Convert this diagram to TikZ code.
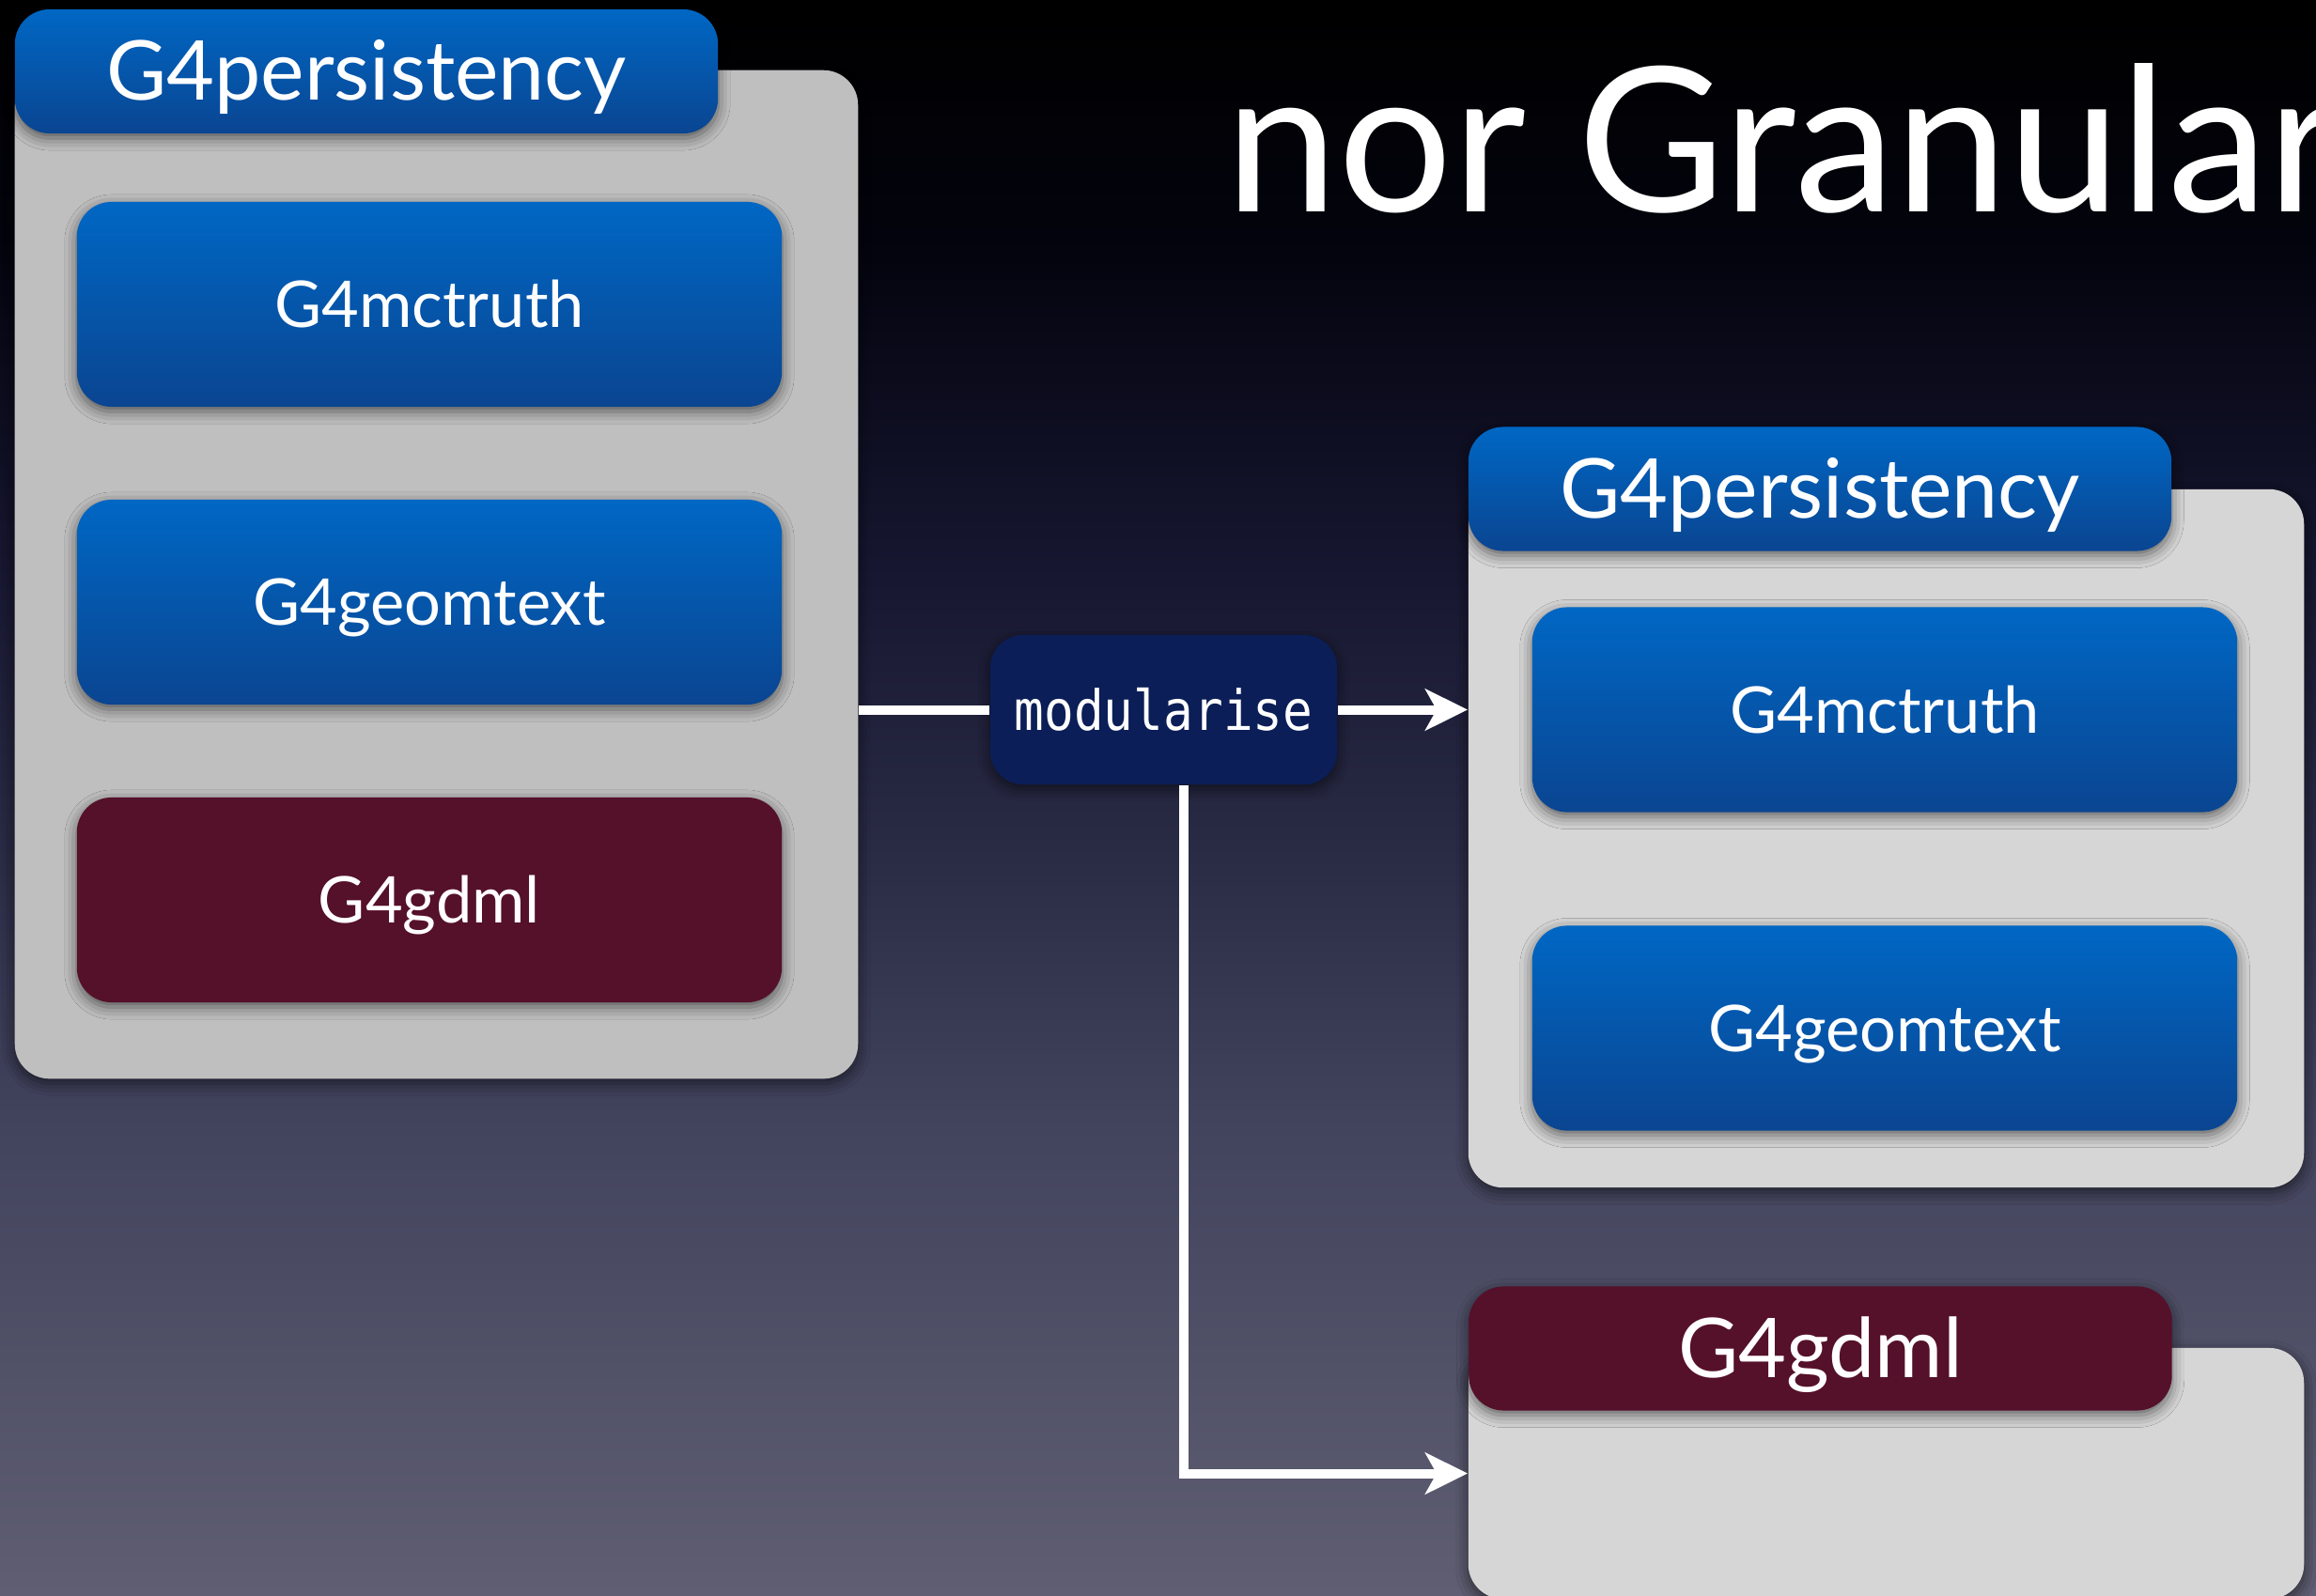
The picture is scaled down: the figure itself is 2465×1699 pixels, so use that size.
\documentclass[tikz,border=0pt]{standalone}
\usepackage{fontspec}
\setmainfont{Lato}
\newfontfamily\codefont{DejaVu Sans Mono}
\usetikzlibrary{arrows.meta,shadows.blur,calc}

\definecolor{bgA}{HTML}{000000}
\definecolor{bgB}{HTML}{03030D}
\definecolor{bgC}{HTML}{161630}
\definecolor{bgD}{HTML}{292A44}
\definecolor{bgE}{HTML}{42435D}
\definecolor{bgF}{HTML}{5F5E72}
\definecolor{grayL}{HTML}{BFBFBF}
\definecolor{grayR}{HTML}{D6D6D6}
\definecolor{boxtop}{HTML}{0067C4}
\definecolor{boxbot}{HTML}{0A4591}
\definecolor{boxred}{HTML}{55102A}
\definecolor{navy}{HTML}{0B1E57}

\pgfdeclareverticalshading{slidebg}{100bp}{color(0bp)=(bgF); color(25bp)=(bgF); color(39.7bp)=(bgE); color(48.5bp)=(bgD); color(57.3bp)=(bgC); color(67.6bp)=(bgB); color(75bp)=(bgA); color(100bp)=(bgA)}

\tikzset{
  softshadow/.style={blur shadow={shadow xshift=0pt, shadow yshift=-0.05cm, shadow blur radius=0.13cm, shadow opacity=55}},
  contbox/.style={rectangle, rounded corners=0.37cm, inner sep=0pt, softshadow},
  modbase/.style={rectangle, rounded corners=0.37cm, inner sep=0pt, text=white, softshadow,
    minimum width=7.5cm, minimum height=2.18cm, text height=13.97pt, text depth=0pt,
    font=\fontsize{19.5}{23}\selectfont},
  bluemod/.style={modbase, top color=boxtop, bottom color=boxbot},
  redmod/.style={modbase, fill=boxred},
  hdrbase/.style={rectangle, rounded corners=0.37cm, inner sep=0pt, text=white, softshadow,
    minimum width=7.48cm, minimum height=1.32cm, text height=17.55pt, text depth=0pt,
    font=\fontsize{25}{28}\selectfont},
  hdrblue/.style={hdrbase, top color=boxtop, bottom color=boxbot},
  hdrred/.style={hdrbase, fill=boxred},
  actbox/.style={rectangle, rounded corners=0.35cm, inner sep=0pt, fill=navy, text=white, softshadow,
    minimum width=3.69cm, minimum height=1.59cm},
  conn/.style={draw=white, line width=0.1cm},
  tip/.style={-{Stealth[length=0.45cm, width=0.44cm, inset=0.12cm]}}
}

\begin{document}
\begin{tikzpicture}[x=0.01cm, y=-0.01cm]
\useasboundingbox (0,0) rectangle (2465,1699);
\clip (0,0) rectangle (2465,1699);
\shade[shading=slidebg] (0,0) rectangle (2465,1699);

% title
\node[anchor=base west, inner sep=0pt, text=white, font=\fontsize{61}{70}\selectfont] (title) at (1304,225) {nor Granular};

% left group
\node[contbox, fill=grayL, minimum width=8.97cm, minimum height=10.73cm] (L) at (464.5,611.5) {};
\node[hdrblue] (LH) at (390,76) {G4persistency};
\node[bluemod] (LM) at (457,324) {G4mctruth};
\node[bluemod] (LG) at (457,641) {G4geomtext};
\node[redmod] (LD) at (457,958) {G4gdml};

% right group
\node[contbox, fill=grayR, minimum width=8.89cm, minimum height=7.43cm] (R) at (2007.5,892.5) {};
\node[hdrblue] (RH) at (1937,520.5) {G4persistency};
\node[bluemod] (RM) at (2006,755.5) {G4mctruth};
\node[bluemod] (RG) at (2006,1094.5) {G4geomtext};

% bottom group
\node[contbox, fill=grayR, minimum width=8.89cm, minimum height=2.67cm] (B) at (2007.5,1568.5) {};
\node[hdrred] (BH) at (1937.5,1435.5) {G4gdml};

% action box
\node[actbox] (M) at (1238.5,755.5) {\codefont\fontsize{15}{18}\selectfont\scalebox{1}[1.12]{modularise}};

% connectors
\draw[conn] (L.east |- M.west) -- (M.west);
\draw[conn, tip] (M.east) -- (R.west |- M.east);
\draw[conn, tip] ($(M.south)+(21,0)$) |- (B.west);
\end{tikzpicture}
\end{document}
